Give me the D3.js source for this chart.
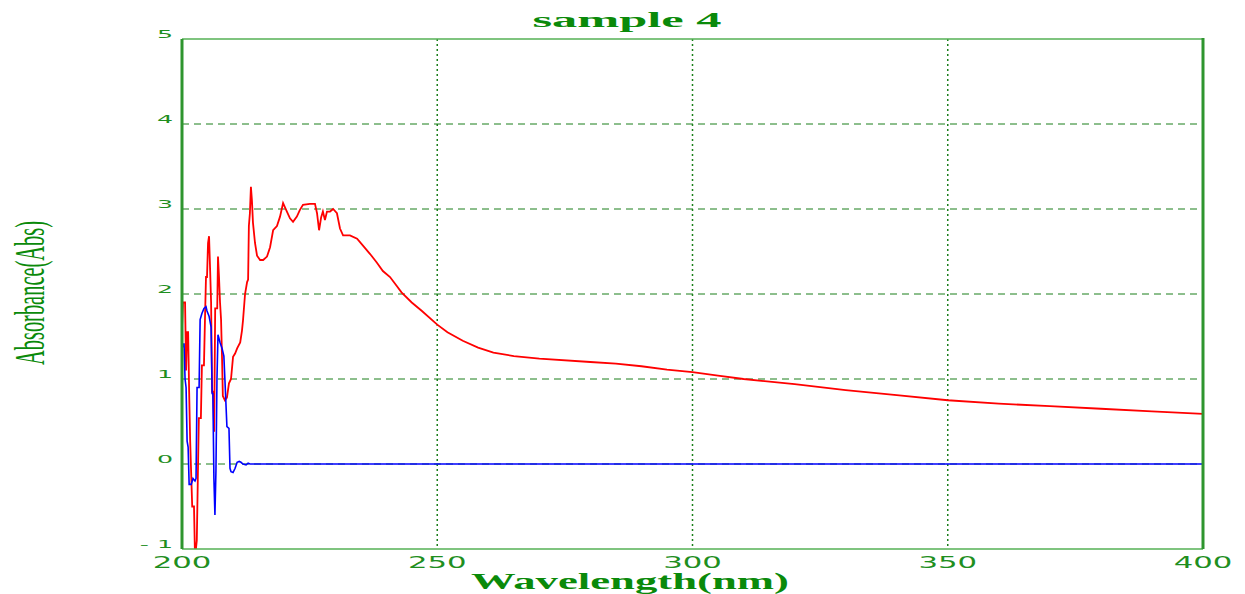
<!DOCTYPE html>
<html><head><meta charset="utf-8">
<script src="https://cdn.jsdelivr.net/npm/d3@7"></script>
<style>body{margin:0;background:#fff}svg{display:block}</style>
</head><body>
<svg id="c" width="1245" height="594"></svg>
<script>
const title = "sample 4";
const xLabel = "Wavelength(nm)";
const yLabel = "Absorbance(Abs)";
const xTicks = [200, 250, 300, 350, 400];
const yTicks = [-1, 0, 1, 2, 3, 4, 5];

const redWl = [200.0,200.2,200.6,200.8,201.0,201.2,201.4,201.6,202.0,202.35,202.55,202.9,203.1,203.3,203.7,203.9,204.3,204.5,204.7,204.9,205.1,205.3,205.5,205.7,205.9,206.1,206.3,206.5,206.9,207.05,207.25,207.45,207.65,207.85,208.0,208.4,208.8,209.2,209.6,210.0,210.4,210.8,211.4,211.75,211.95,212.35,212.75,212.95,213.1,213.3,213.5,213.7,213.9,214.3,214.7,215.3,215.9,216.65,217.25,217.85,218.6,219.2,219.8,220.55,221.15,221.75,222.5,223.1,223.7,225.05,226.05,226.45,226.85,227.25,227.6,228.0,228.4,229.0,229.6,230.35,230.95,231.55,232.9,234.3,235.45,236.85,238.15,239.35,240.75,242,243,245,247,250,252,255,258,261,265,270,280,285,290,295,300,305,310,320,330,340,350,360,370,380,390,400];
const redAbs = [1.6,1.9,1.9,1.1,1.55,1.55,0.85,0.27,-0.5,-0.5,-1.1,-0.9,-0.17,0.54,0.54,1.16,1.16,1.7,2.2,2.2,2.6,2.68,2.3,1.9,0.85,0.85,0.38,1.83,1.83,2.44,2.2,1.9,1.7,1.23,0.8,0.75,0.78,0.95,1.0,1.26,1.3,1.36,1.43,1.57,1.69,2.0,2.14,2.17,2.8,2.95,3.26,3.1,2.84,2.6,2.45,2.4,2.4,2.44,2.55,2.75,2.8,2.91,3.07,2.97,2.89,2.85,2.91,2.99,3.05,3.06,3.06,2.95,2.75,2.9,2.97,2.87,2.97,2.97,3.0,2.95,2.77,2.69,2.69,2.65,2.57,2.47,2.37,2.27,2.2,2.1,2.02,1.9,1.8,1.64,1.55,1.45,1.37,1.31,1.27,1.24,1.2,1.18,1.15,1.11,1.08,1.04,1.0,0.94,0.87,0.81,0.75,0.71,0.68,0.65,0.62,0.59];

const blueWl = [200.0,200.2,200.4,200.6,200.8,201.0,201.2,201.4,201.8,202.15,202.55,202.75,202.95,203.35,203.55,203.9,204.3,204.7,204.9,205.3,205.7,205.9,206.05,206.25,206.45,206.65,206.85,207.05,207.45,207.85,208.2,208.4,208.8,209.2,209.4,209.6,210.0,210.4,210.8,211.2,211.55,211.95,212.55,212.95,213.3,400];
const blueAbs = [1.35,1.41,1.41,1.0,0.9,0.27,0.2,-0.24,-0.24,-0.17,-0.2,-0.17,0.9,0.9,1.7,1.77,1.83,1.85,1.8,1.74,1.61,0.83,0.83,-0.17,-0.6,-0.08,1.0,1.52,1.43,1.36,1.27,1.0,0.44,0.42,-0.05,-0.09,-0.1,-0.05,0.02,0.03,0.02,0,-0.01,0.01,0,0];

const L = 182, R = 1203, T = 39, B = 549;
const svg = d3.select("#c");
const x = d3.scaleLinear().domain([200, 400]).range([L, R]);
const y = d3.scaleLinear().domain([-1, 5]).range([B, T]);
const green = "#1f8f1f";

svg.append("defs").append("clipPath").attr("id", "clip")
  .append("rect").attr("x", L).attr("y", T).attr("width", R - L).attr("height", B - T);

// grid
svg.append("g").selectAll("line").data(yTicks.filter(v => v > -1 && v < 5)).join("line")
  .attr("x1", L).attr("x2", R).attr("y1", d => y(d)).attr("y2", d => y(d))
  .attr("stroke", "#1a7f1a").attr("stroke-width", 1).attr("stroke-dasharray", "7,5");
svg.append("g").selectAll("line").data(xTicks.filter(v => v > 200 && v < 400)).join("line")
  .attr("x1", d => x(d)).attr("x2", d => x(d)).attr("y1", T).attr("y2", B)
  .attr("stroke", "#1a7f1a").attr("stroke-width", 1.5).attr("stroke-dasharray", "2,3");

// series
const line = d3.line().x(d => x(d[0])).y(d => y(d[1]));
const plot = svg.append("g").attr("clip-path", "url(#clip)");
plot.append("path").datum(redWl.map((w, i) => [w, redAbs[i]]))
  .attr("d", line).attr("fill", "none").attr("stroke", "#ff0000").attr("stroke-width", 1.8);
plot.append("path").datum(blueWl.map((w, i) => [w, blueAbs[i]]))
  .attr("d", line).attr("fill", "none").attr("stroke", "#0000ff").attr("stroke-width", 1.6);

// frame
svg.append("line").attr("x1", L).attr("x2", R).attr("y1", T).attr("y2", T).attr("stroke", "#55b055").attr("stroke-width", 1.5);
svg.append("line").attr("x1", L).attr("x2", R).attr("y1", B).attr("y2", B).attr("stroke", "#55b055").attr("stroke-width", 1.5);
svg.append("line").attr("x1", L).attr("x2", L).attr("y1", T).attr("y2", B).attr("stroke", "#2e952e").attr("stroke-width", 3);
svg.append("line").attr("x1", R).attr("x2", R).attr("y1", T - 1).attr("y2", B).attr("stroke", "#2e952e").attr("stroke-width", 3);

// y tick labels
svg.append("g").selectAll("text").data(yTicks).join("text")
  .attr("transform", d => `translate(173,${y(d) - 1}) scale(2.3,1)`)
  .attr("text-anchor", "end")
  .attr("font-family", "DejaVu Sans").attr("font-size", 11).attr("fill", green)
  .text(d => d < 0 ? "- " + Math.abs(d) : d);

// x tick labels
svg.append("g").selectAll("text").data(xTicks).join("text")
  .attr("transform", d => `translate(${x(d)},568) scale(2.05,1)`)
  .attr("text-anchor", "middle")
  .attr("font-family", "DejaVu Sans").attr("font-size", 15).attr("fill", green)
  .text(d => d);

// title
svg.append("text").attr("x", 627).attr("y", 27).attr("text-anchor", "middle")
  .attr("font-family", "Liberation Serif").attr("font-weight", "bold").attr("font-size", 22)
  .attr("fill", "#0a8a0a").attr("textLength", 189).attr("lengthAdjust", "spacingAndGlyphs")
  .text(title);

// x label
svg.append("text").attr("x", 630).attr("y", 589).attr("text-anchor", "middle")
  .attr("font-family", "Liberation Serif").attr("font-weight", "bold").attr("font-size", 23)
  .attr("fill", "#0a8a0a").attr("textLength", 318).attr("lengthAdjust", "spacingAndGlyphs")
  .text(xLabel);

// y label
svg.append("text").attr("transform", "translate(44,293) scale(2.15,1) rotate(-90)")
  .attr("text-anchor", "middle")
  .attr("font-family", "Liberation Serif").attr("font-size", 20)
  .attr("fill", "#0a8a0a").attr("textLength", 144).attr("lengthAdjust", "spacingAndGlyphs")
  .text(yLabel);
</script>
</body></html>
